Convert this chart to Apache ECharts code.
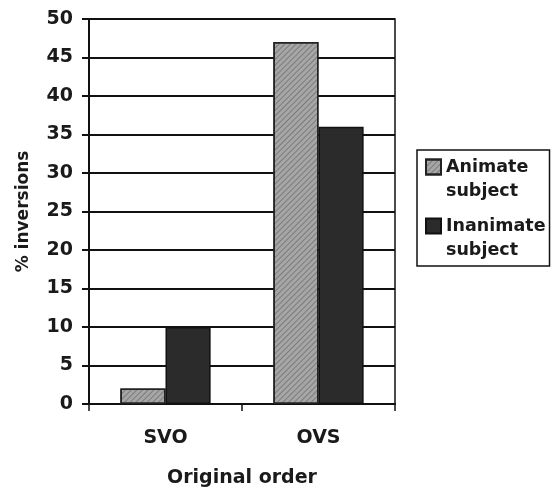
<!DOCTYPE html>
<html>
<head>
<meta charset="utf-8">
<script src="https://cdn.jsdelivr.net/npm/echarts@6/dist/echarts.min.js"></script>
<style>
  html, body { margin: 0; padding: 0; background: #fff; }
  #main { width: 553px; height: 490px; }
</style>
</head>
<body>
<div id="main"></div>
<script>
const categories = ['SVO', 'OVS']
const animateValues = [2, 47]
const inanimateValues = [10, 36]
const seriesNames = ['Animate\nsubject', 'Inanimate\nsubject']

const font = 'DejaVu Sans, Arial, sans-serif'
// square sitting on the first text line of a two-line legend entry
const legendIcon = 'path://M0,0M0,4.5L15,4.5L15,19.5L0,19.5ZM15,48'

let myChart = echarts.init(document.getElementById('main'))

let option = {
  backgroundColor: '#fff',
  animation: false,
  textStyle: { fontFamily: font },
  grid: {
    left: 89,
    right: 158,
    top: 19,
    bottom: 86,
    outerBoundsMode: 'none',
    show: true,
    borderColor: '#111',
    borderWidth: 1.5
  },
  legend: {
    orient: 'vertical',
    left: 417,
    top: 150,
    padding: [4, 4, 3, 8],
    itemGap: 9,
    itemWidth: 15,
    itemHeight: 48,
    icon: legendIcon,
    borderColor: '#111',
    borderWidth: 1.5,
    data: seriesNames,
    textStyle: {
      fontFamily: font,
      fontWeight: 'bold',
      fontSize: 17.5,
      lineHeight: 24,
      color: '#1a1a1a'
    }
  },
  xAxis: {
    type: 'category',
    data: categories,
    name: 'Original order',
    nameLocation: 'middle',
    nameGap: 65,
    nameTextStyle: { fontFamily: font, fontWeight: 'bold', fontSize: 19, color: '#1a1a1a' },
    axisLine: { lineStyle: { color: '#111', width: 2 } },
    axisTick: { show: true, length: 7, lineStyle: { color: '#111', width: 1.5 } },
    axisLabel: { margin: 25, fontFamily: font, fontWeight: 'bold', fontSize: 19, color: '#1a1a1a' }
  },
  yAxis: {
    type: 'value',
    min: 0,
    max: 50,
    interval: 5,
    name: '% inversions',
    nameLocation: 'middle',
    nameGap: 57,
    nameTextStyle: { fontFamily: font, fontWeight: 'bold', fontSize: 17, color: '#1a1a1a' },
    axisLine: { show: true, lineStyle: { color: '#111', width: 2 } },
    axisTick: { show: true, length: 7, lineStyle: { color: '#111', width: 2 } },
    axisLabel: { margin: 16, fontFamily: font, fontWeight: 'bold', fontSize: 19, color: '#1a1a1a' },
    splitLine: { show: true, lineStyle: { color: '#111', width: 2 } }
  },
  series: [
    {
      name: seriesNames[0],
      type: 'bar',
      data: animateValues,
      barGap: '0%',
      barCategoryGap: '41%',
      itemStyle: {
        color: '#a6a6a6',
        borderColor: '#222',
        borderWidth: 1.5,
        decal: {
          symbol: 'rect',
          color: 'rgba(70,70,70,0.45)',
          dashArrayX: [1, 0],
          dashArrayY: [1, 3],
          rotation: -Math.PI / 4
        }
      }
    },
    {
      name: seriesNames[1],
      type: 'bar',
      data: inanimateValues,
      itemStyle: {
        color: '#2b2b2b',
        borderColor: '#111',
        borderWidth: 1.5
      }
    }
  ]
}

option && myChart.setOption(option)
</script>
</body>
</html>
